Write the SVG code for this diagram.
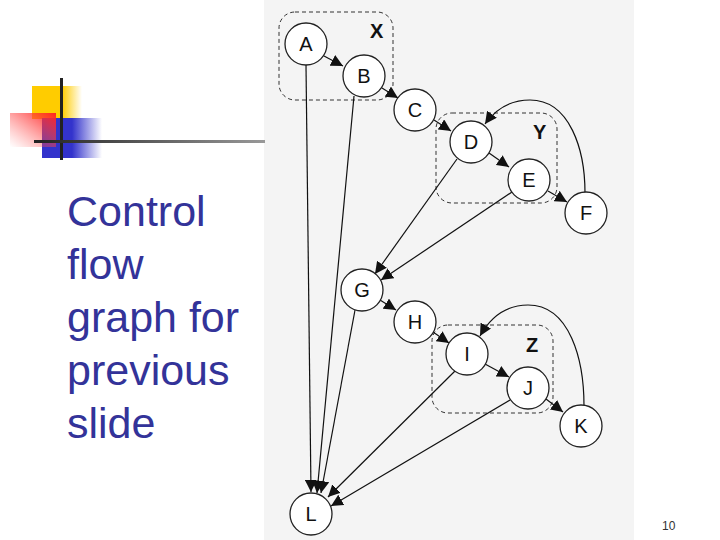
<svg xmlns="http://www.w3.org/2000/svg" width="720" height="540" viewBox="0 0 720 540">
<defs>
<linearGradient id="gy" x1="0" x2="1"><stop offset="0.6" stop-color="#ffcc00"/><stop offset="1" stop-color="#ffcc00" stop-opacity="0"/></linearGradient>
<linearGradient id="gb" x1="0" x2="1"><stop offset="0.5" stop-color="#3333cc"/><stop offset="1" stop-color="#3333cc" stop-opacity="0"/></linearGradient>
<linearGradient id="gr" x1="1" y1="0" x2="0" y2="1"><stop offset="0" stop-color="#ff2222"/><stop offset="1" stop-color="#ff6666" stop-opacity="0"/></linearGradient>
<linearGradient id="gl" x1="0" x2="1"><stop offset="0" stop-color="#222"/><stop offset="1" stop-color="#999"/></linearGradient>
<marker id="ar" viewBox="0 0 10 10" refX="10" refY="5" markerWidth="12" markerHeight="12" markerUnits="userSpaceOnUse" orient="auto"><path d="M0,0L10,5L0,10z" fill="#111"/></marker>
<style>
.n circle{fill:#fff;stroke:#222;stroke-width:1.3}
.n text{font-family:"Liberation Sans",Arial,sans-serif;font-size:20px;text-anchor:middle;fill:#111}
.box{fill:none;stroke:#333;stroke-width:1;stroke-dasharray:4,3}
.lab{font-family:"Liberation Sans",Arial,sans-serif;font-size:20px;font-weight:bold;fill:#111}
#edges path{fill:none;stroke:#111;stroke-width:1.2;marker-end:url(#ar)}
</style>
</defs>
<rect width="720" height="540" fill="#fff"/>
<rect x="264" y="0" width="370" height="540" fill="#f4f4f4"/>
<g id="deco">
<rect x="32" y="86" width="50" height="33" fill="url(#gy)"/>
<rect x="42" y="118" width="60" height="40" fill="url(#gb)"/>
<rect x="10" y="113" width="46" height="34" fill="url(#gr)"/>
<rect x="60" y="78" width="3" height="82" fill="#222"/>
<rect x="34" y="140" width="231" height="3" fill="url(#gl)"/>
</g>
<text font-family="'Liberation Sans',Arial,sans-serif" font-size="43" fill="#333399"><tspan x="67" y="226">Control</tspan><tspan x="67" y="279">flow</tspan><tspan x="67" y="332">graph for</tspan><tspan x="67" y="385">previous</tspan><tspan x="67" y="438">slide</tspan></text>
<text x="662" y="530" font-family="'Liberation Sans',Arial,sans-serif" font-size="12" fill="#333">10</text>
<g id="groups">
<rect class="box" x="279" y="12" width="114" height="88" rx="16"/>
<text class="lab" x="370" y="38">X</text>
<rect class="box" x="436" y="113" width="121" height="90" rx="16"/>
<text class="lab" x="533" y="139">Y</text>
<rect class="box" x="432" y="325" width="121" height="88" rx="16"/>
<text class="lab" x="526" y="352">Z</text>
</g>
<g id="edges">
<path d="M324,56L343,66"/>
<path d="M382,88L398,98"/>
<path d="M434,120L451,131"/>
<path d="M489,153L509,167"/>
<path d="M548,191L567,202"/>
<path d="M585,193C585,150 570,100 530,100C510,100 495,110 485,124"/>
<path d="M306,65L311,492"/>
<path d="M354,96L317,493"/>
<path d="M457,159L375,274"/>
<path d="M512,192L381,280"/>
<path d="M380,300L396,310"/>
<path d="M433,332L449,343"/>
<path d="M485,364L509,377"/>
<path d="M546,399L563,412"/>
<path d="M584,406C584,360 570,305 528,305C505,305 490,318 480,336"/>
<path d="M355,310L321,493"/>
<path d="M455,371L328,497"/>
<path d="M510,400L331,506"/>
</g>
<g id="nA" class="n"><circle cx="306" cy="44" r="21"/><text x="306" y="51">A</text></g>
<g id="nB" class="n"><circle cx="364" cy="76" r="21"/><text x="364" y="83">B</text></g>
<g id="nC" class="n"><circle cx="415" cy="110" r="21"/><text x="415" y="117">C</text></g>
<g id="nD" class="n"><circle cx="471" cy="142" r="21"/><text x="471" y="149">D</text></g>
<g id="nE" class="n"><circle cx="529" cy="180" r="21"/><text x="529" y="187">E</text></g>
<g id="nF" class="n"><circle cx="586" cy="213" r="21"/><text x="586" y="220">F</text></g>
<g id="nG" class="n"><circle cx="362" cy="290" r="21"/><text x="362" y="297">G</text></g>
<g id="nH" class="n"><circle cx="415" cy="322" r="21"/><text x="415" y="329">H</text></g>
<g id="nI" class="n"><circle cx="467" cy="354" r="21"/><text x="467" y="361">I</text></g>
<g id="nJ" class="n"><circle cx="528" cy="388" r="21"/><text x="528" y="395">J</text></g>
<g id="nK" class="n"><circle cx="581" cy="426" r="21"/><text x="581" y="433">K</text></g>
<g id="nL" class="n"><circle cx="311" cy="514" r="21"/><text x="311" y="521">L</text></g>
</svg>
